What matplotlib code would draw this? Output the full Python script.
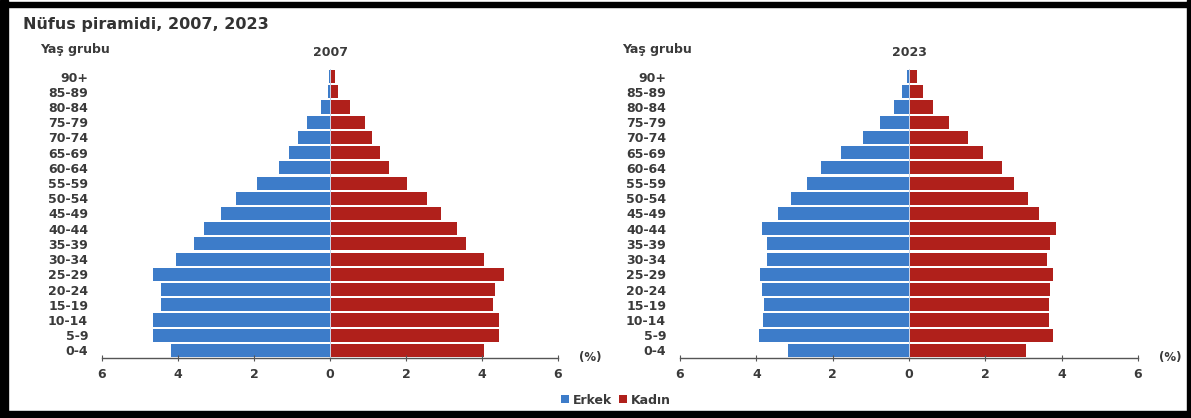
import matplotlib.pyplot as plt
from matplotlib.patches import Rectangle

# --- DATA (percent of population) ---
AGE_GROUPS = ['0-4', '5-9', '10-14', '15-19', '20-24', '25-29', '30-34',
              '35-39', '40-44', '45-49', '50-54', '55-59', '60-64', '65-69',
              '70-74', '75-79', '80-84', '85-89', '90+']

MALE_2007 = [4.19, 4.67, 4.65, 4.45, 4.45, 4.67, 4.06, 3.57, 3.32, 2.87,
             2.47, 1.91, 1.34, 1.08, 0.84, 0.60, 0.24, 0.05, 0.02]
FEMALE_2007 = [4.04, 4.44, 4.44, 4.28, 4.34, 4.59, 4.06, 3.59, 3.35, 2.91,
               2.54, 2.03, 1.54, 1.32, 1.10, 0.93, 0.53, 0.22, 0.12]

MALE_2023 = [3.18, 3.93, 3.83, 3.81, 3.85, 3.90, 3.71, 3.73, 3.86, 3.43,
             3.08, 2.68, 2.30, 1.78, 1.21, 0.75, 0.39, 0.18, 0.04]
FEMALE_2023 = [3.07, 3.77, 3.68, 3.66, 3.70, 3.77, 3.61, 3.70, 3.85, 3.40,
               3.12, 2.76, 2.43, 1.95, 1.54, 1.04, 0.63, 0.37, 0.22]

XTICKS = [-6, -4, -2, 0, 2, 4, 6]

BLUE = '#3d7cc9'
RED = '#b0201b'
TXT = '#3a3a3a'

W, H = 1191, 418
fig = plt.figure(figsize=(W / 100, H / 100), dpi=100)
fig.patch.set_facecolor('white')


def px(x, y):
    return x / W, 1 - y / H


def pyramid(ax, male, female, year):
    y = range(len(AGE_GROUPS))
    hm = ax.barh(y, [-v for v in male], height=0.86, color=BLUE, label='Erkek')
    hf = ax.barh(y, female, height=0.86, color=RED, label='Kadın')
    ax.axvline(0, color='#c9d6ea', lw=0.7)
    ax.set_xlim(-6, 6)
    ax.set_ylim(-0.5, len(AGE_GROUPS) - 0.5)
    ax.set_yticks(list(y))
    ax.set_yticklabels(AGE_GROUPS)
    ax.set_xticks(XTICKS)
    ax.set_xticklabels([str(abs(t)) for t in XTICKS])
    for s in ['top', 'right', 'left']:
        ax.spines[s].set_visible(False)
    ax.spines['bottom'].set_color('#555555')
    ax.spines['bottom'].set_linewidth(1.0)
    ax.tick_params(axis='y', length=0, pad=10, labelsize=9, labelcolor=TXT)
    ax.tick_params(axis='x', direction='inout', length=4, color='#555555',
                   pad=5, labelsize=9, labelcolor=TXT)
    for lab in ax.get_xticklabels() + ax.get_yticklabels():
        lab.set_fontweight('bold')
    ax.text(0, 1.035, year, transform=ax.get_xaxis_transform(), ha='center',
            va='bottom', fontsize=9, fontweight='bold', color=TXT)
    ax.text(1.045, 0.0, '(%)', transform=ax.transAxes, ha='left',
            va='center', fontsize=8.5, fontweight='bold', color=TXT)
    return hm, hf


bottom = 1 - 358 / H
height = (358 - 69) / H
ax1 = fig.add_axes([102 / W, bottom, (558 - 102) / W, height])
ax2 = fig.add_axes([680 / W, bottom, (1138 - 680) / W, height])

hm, hf = pyramid(ax1, MALE_2007, FEMALE_2007, '2007')
pyramid(ax2, MALE_2023, FEMALE_2023, '2023')

fig.text(*px(23, 24), 'Nüfus piramidi, 2007, 2023', ha='left', va='center',
         fontsize=11.5, fontweight='bold', color='#333333')
fig.text(*px(40, 50), 'Yaş grubu', ha='left', va='center', fontsize=9,
         fontweight='bold', color=TXT)
fig.text(*px(622, 50), 'Yaş grubu', ha='left', va='center', fontsize=9,
         fontweight='bold', color=TXT)

leg = fig.legend(handles=[hm, hf], loc='center', bbox_to_anchor=px(616, 400),
                 ncol=2, frameon=False, fontsize=9, handlelength=0.6,
                 handleheight=0.6, handletextpad=0.3, columnspacing=0.6)
for t in leg.get_texts():
    t.set_fontweight('bold')
    t.set_color(TXT)

# black frame around the picture
for (x0, y0, x1, y1) in [(0, 0, 8, H), (0, 2, W, 7), (0, 411, W, H), (1187, 0, W, H)]:
    fig.patches.append(Rectangle((x0 / W, 1 - y1 / H), (x1 - x0) / W, (y1 - y0) / H,
                                 transform=fig.transFigure, color='black', zorder=10))

fig.savefig('out.png', dpi=100)
